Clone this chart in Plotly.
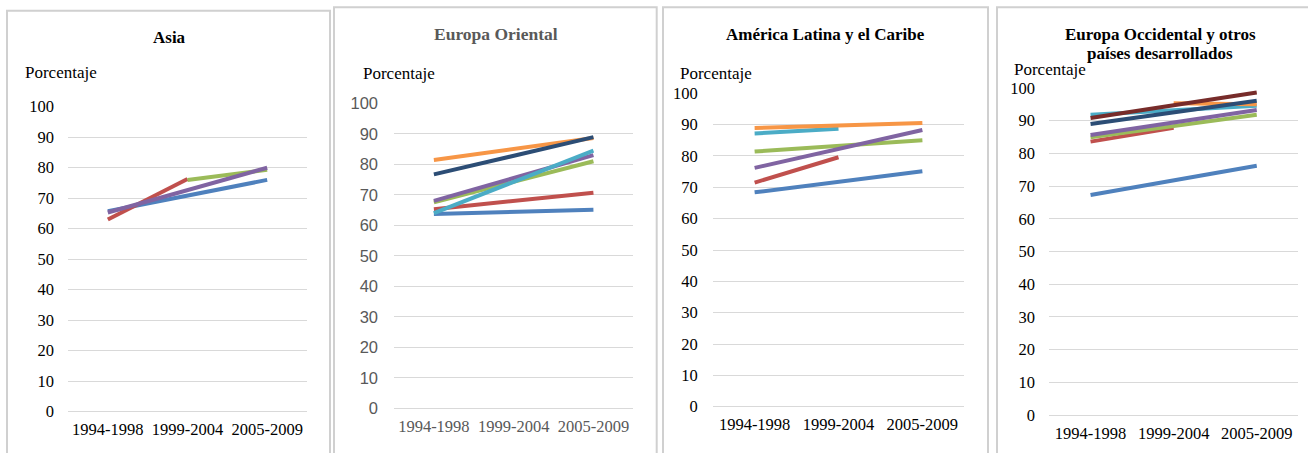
import plotly.graph_objects as go

W, H = 1308, 453

periods = ["1994-1998", "1999-2004", "2005-2009"]
y_ticks = [0, 10, 20, 30, 40, 50, 60, 70, 80, 90, 100]

# Asia
asia_blue = [65.7, None, 76.0]
asia_red = [63.0, 76.3, None]
asia_green = [None, 76.0, 79.3]
asia_purple = [65.3, None, 80.0]

# Europa Oriental
eo_blue = [63.7, None, 65.1]
eo_red = [65.3, None, 70.7]
eo_green = [67.5, None, 81.0]
eo_purple = [68.0, None, 83.0]
eo_cyan = [64.0, None, 84.5]
eo_orange = [81.4, None, 88.6]
eo_navy = [76.7, None, 88.9]

# America Latina y el Caribe
al_blue = [68.4, None, 75.1]
al_red = [71.5, 79.6, None]
al_green = [81.4, None, 85.0]
al_purple = [76.2, None, 88.3]
al_cyan = [87.2, 88.7, None]
al_orange = [88.9, None, 90.5]

# Europa Occidental y otros paises desarrollados
ew_blue = [67.3, None, 76.2]
ew_red = [83.6, 87.8, None]
ew_green = [84.9, None, 91.8]
ew_purple = [85.6, None, 93.3]
ew_cyan = [91.8, None, 94.6]
ew_orange = [None, 95.3, 95.0]
ew_navy = [89.0, None, 96.1]
ew_darkred = [90.8, None, 98.6]

C = {
    "blue": "#4F81BD", "red": "#C0504D", "green": "#9BBB59", "purple": "#8064A2",
    "cyan": "#4BACC6", "orange": "#F79646", "navy": "#2C4D75", "darkred": "#772C2A",
}

SERIF = "Liberation Serif, Times New Roman, serif"
SANS = "Liberation Sans, Arial, sans-serif"
TS = 16.5

panels = [
    dict(title=["Asia"], tcolor="#000000", tsize=17, tx=169, ty=[37.7],
         px=(68, 307), py=(106.7, 411.7), ylab=(22.7, 72.7), ystand=13,
         yfont=dict(family=SERIF, size=TS, color="#000000"),
         xfont=dict(family=SERIF, size=TS, color="#000000"),
         border=(7, 330, 10.7),
         series=[(asia_blue, "blue"), (asia_red, "red"), (asia_green, "green"),
                 (asia_purple, "purple")]),
    dict(title=["Europa Oriental"], tcolor="#595959", tsize=17.5, tx=495.7, ty=[34.3],
         px=(394, 633.3), py=(103.3, 408.3), ylab=(360.7, 73.3), ystand=15,
         yfont=dict(family=SANS, size=TS, color="#595959"),
         xfont=dict(family=SERIF, size=TS, color="#595959"),
         border=(334, 656.7, 7.3),
         series=[(eo_blue, "blue"), (eo_red, "red"), (eo_green, "green"),
                 (eo_purple, "purple"), (eo_cyan, "cyan"), (eo_orange, "orange"),
                 (eo_navy, "navy")]),
    dict(title=["América Latina y el Caribe"], tcolor="#000000", tsize=17, tx=825.7, ty=[34.3],
         px=(712.7, 964.3), py=(93.3, 406.7), ylab=(678, 73.3), ystand=14,
         yfont=dict(family=SERIF, size=TS, color="#000000"),
         xfont=dict(family=SERIF, size=TS, color="#000000"),
         border=(663, 988, 7.3),
         series=[(al_blue, "blue"), (al_red, "red"), (al_green, "green"),
                 (al_purple, "purple"), (al_cyan, "cyan"), (al_orange, "orange")]),
    dict(title=["Europa Occidental y otros", "países desarrollados"], tcolor="#000000",
         tsize=17, tx=1160, ty=[34.3, 53.3],
         px=(1049, 1298.3), py=(88, 415), ylab=(1011.7, 69), ystand=13,
         yfont=dict(family=SERIF, size=TS, color="#000000"),
         xfont=dict(family=SERIF, size=TS, color="#000000"),
         border=(997, 1312, 7.3),
         series=[(ew_blue, "blue"), (ew_red, "red"), (ew_green, "green"),
                 (ew_purple, "purple"), (ew_cyan, "cyan"), (ew_orange, "orange"),
                 (ew_navy, "navy"), (ew_darkred, "darkred")]),
]


def fx(x):
    return x / W


def fy(y):
    return 1 - y / H


fig = go.Figure()
annotations = []
shapes = []
layout = {}

for i, p in enumerate(panels):
    n = "" if i == 0 else str(i + 1)
    xa, ya = "x" + n, "y" + n
    for vals, col in p["series"]:
        fig.add_trace(go.Scatter(
            x=periods, y=vals, mode="lines", connectgaps=True,
            line=dict(color=C[col], width=4), xaxis=xa, yaxis=ya,
            showlegend=False, hoverinfo="skip"))
    layout["xaxis" + n] = dict(
        domain=[fx(p["px"][0]), fx(p["px"][1])], anchor=ya, automargin=False,
        type="category", categoryorder="array", categoryarray=periods,
        range=[-0.5, 2.5], showgrid=False, zeroline=False, showline=False,
        ticks="", tickfont=p["xfont"], ticklabelstandoff=6, fixedrange=True)
    layout["yaxis" + n] = dict(
        domain=[fy(p["py"][1]), fy(p["py"][0])], anchor=xa, automargin=False,
        range=[0, 100], tickvals=y_ticks, showgrid=True, gridcolor="#D9D9D9",
        gridwidth=1, zeroline=True, zerolinecolor="#D9D9D9", zerolinewidth=1,
        showline=False, ticks="", tickfont=p["yfont"], ticklabelstandoff=p["ystand"],
        fixedrange=True)
    for t, ty in zip(p["title"], p["ty"]):
        annotations.append(dict(
            text="<b>" + t + "</b>", x=fx(p["tx"]), y=fy(ty), xref="paper", yref="paper",
            xanchor="center", yanchor="middle", showarrow=False,
            font=dict(family=SERIF, size=p["tsize"], color=p["tcolor"])))
    annotations.append(dict(
        text="Porcentaje", x=fx(p["ylab"][0]), y=fy(p["ylab"][1]), xref="paper", yref="paper",
        xanchor="left", yanchor="middle", showarrow=False,
        font=dict(family=SERIF, size=17, color="#000000")))
    bx0, bx1, by0 = p["border"]
    shapes.append(dict(type="rect", xref="paper", yref="paper",
                       x0=fx(bx0), x1=fx(bx1), y0=fy(by0), y1=fy(470),
                       line=dict(color="#D0D0D0", width=2), fillcolor="rgba(0,0,0,0)"))

fig.update_layout(
    width=W, height=H, margin=dict(l=0, r=0, t=0, b=0, autoexpand=False),
    paper_bgcolor="#FFFFFF", plot_bgcolor="#FFFFFF",
    annotations=annotations, shapes=shapes, showlegend=False, **layout)

fig.write_html(
    "out.html",
    config={"displayModeBar": False, "responsive": False},
    post_script="document.body.style.margin='0';document.body.style.overflow='hidden';",
)
